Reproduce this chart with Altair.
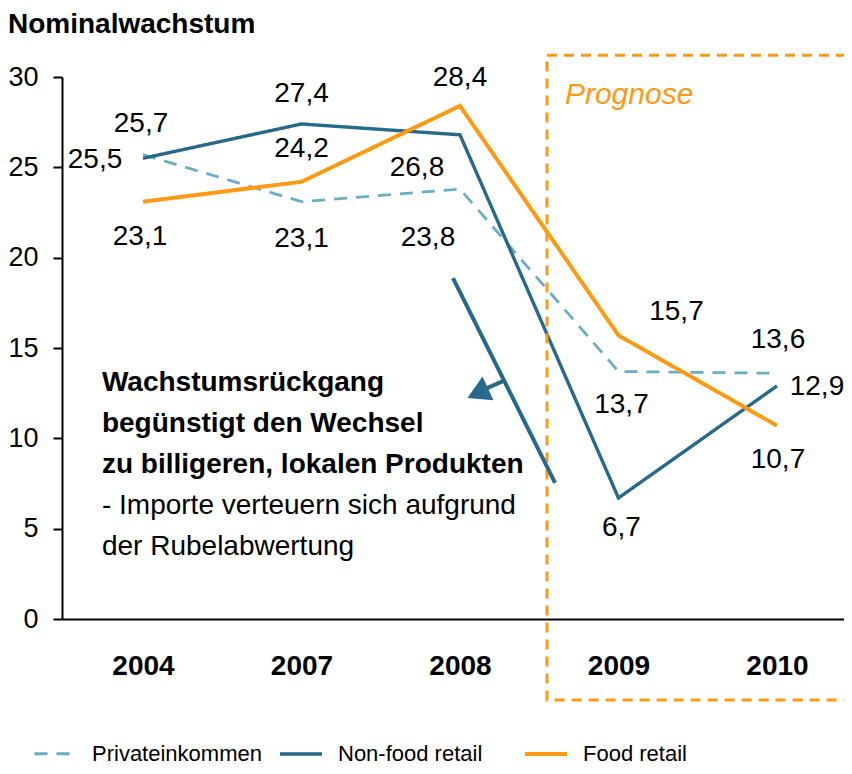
import altair as alt
import pandas as pd

# ---- data ----
years = ["2004", "2007", "2008", "2009", "2010"]
series_names = ["Privateinkommen", "Non-food retail", "Food retail"]
privat = [25.7, 23.1, 23.8, 13.7, 13.6]
nonfood = [25.5, 27.4, 26.8, 6.7, 12.9]
food = [23.1, 24.2, 28.4, 15.7, 10.7]

# label offsets in pixels (dx, dy) relative to each point
privat_off = [(-2, -31), (0, 37), (-32, 49), (3, 34), (1, -33)]
nonfood_off = [(-48, 2), (0, -30), (-43, 33), (3, 30), (40, 1)]
food_off = [(-3, 35), (0, -33), (0, -28), (58, -23), (1, 34)]

FONT = "Liberation Sans, Arial, sans-serif"
C_PRIV = "#6aaec6"
C_NONF = "#27698a"
C_FOOD = "#ff9a12"
C_PROG = "#ff9a12"

rows = []
for name, vals in [("Privateinkommen", privat), ("Non-food retail", nonfood),
                   ("Food retail", food)]:
    for i, (y, v) in enumerate(zip(years, vals)):
        rows.append({"series": name, "idx": i, "year": y, "value": v,
                     "label": f"{v:.1f}".replace(".", ",")})
df = pd.DataFrame(rows)

xscale = alt.Scale(domain=[-0.511, 4.423], nice=False, zero=False)
yscale = alt.Scale(domain=[0, 30], nice=False)

label_expr = "[" + ",".join(f"'{y}'" for y in years) + "][datum.value]"

x_enc = alt.X("idx:Q", scale=xscale,
              axis=alt.Axis(values=list(range(len(years))), labelExpr=label_expr,
                            title=None, ticks=False, grid=False,
                            domainColor="black", domainWidth=2,
                            labelFont=FONT, labelFontSize=28, labelFontWeight="bold",
                            labelColor="black", labelBaseline="alphabetic",
                            labelPadding=55))
y_enc = alt.Y("value:Q", scale=yscale,
              axis=alt.Axis(values=[0, 5, 10, 15, 20, 25, 30], title=None, grid=False,
                            domainColor="black", domainWidth=2, tickColor="black",
                            tickWidth=2, tickSize=9, labelFont=FONT, labelFontSize=27,
                            labelColor="black", labelPadding=15))

color = alt.Color("series:N",
                  scale=alt.Scale(domain=series_names, range=[C_PRIV, C_NONF, C_FOOD]),
                  legend=alt.Legend(title=None, orient="none", direction="horizontal",
                                    legendX=-29, legendY=654, padding=0,
                                    symbolType="stroke", symbolStrokeWidth=4,
                                    symbolSize=1764, labelFont=FONT, labelFontSize=22,
                                    labelColor="black", labelOffset=14, labelLimit=0,
                                    gridAlign="all", columnPadding=10))
dash = alt.StrokeDash("series:N",
                      scale=alt.Scale(domain=series_names,
                                      range=[[13, 9], [1, 0], [1, 0]]),
                      legend=None)
width_enc = alt.StrokeWidth("series:N",
                            scale=alt.Scale(domain=series_names, range=[2.8, 4, 4]),
                            legend=None)

lines = alt.Chart(df).mark_line().encode(
    x=x_enc, y=y_enc, color=color, strokeDash=dash, strokeWidth=width_enc,
    detail="series:N")

# value labels, one small layer per label so each can have its own offset
label_layers = []
for name, offs in [("Privateinkommen", privat_off), ("Non-food retail", nonfood_off),
                   ("Food retail", food_off)]:
    for i, (dx, dy) in enumerate(offs):
        label_layers.append(
            alt.Chart(df).transform_filter(
                (alt.datum.series == name) & (alt.datum.idx == i)
            ).mark_text(font=FONT, fontSize=28, color="black", dx=dx, dy=dy,
                        baseline="middle").encode(
                x=alt.X("idx:Q", scale=xscale),
                y=alt.Y("value:Q", scale=yscale),
                text="label:N"))

# ---- Prognose box ----
box_df = pd.DataFrame([{"x": 2.549, "x2": 4.7, "y": -4.48, "y2": 31.21}])
box = alt.Chart(box_df).mark_rect(fill=None, stroke=C_PROG, strokeWidth=3,
                                  strokeDash=[10, 7]).encode(
    x=alt.X("x:Q", scale=xscale), x2="x2:Q",
    y=alt.Y("y:Q", scale=yscale), y2="y2:Q")

prog_df = pd.DataFrame([{"x": 2.662, "y": 28.5, "t": "Prognose"}])
prog = alt.Chart(prog_df).mark_text(font=FONT, fontSize=30, fontStyle="italic",
                                    color=C_PROG, align="left",
                                    baseline="alphabetic").encode(
    x=alt.X("x:Q", scale=xscale), y=alt.Y("y:Q", scale=yscale), text="t:N")

# ---- annotation ----
seg_df = pd.DataFrame([
    {"x": 1.956, "y": 18.87, "x2": 2.60, "y2": 7.53},
    {"x": 2.271, "y": 13.17, "x2": 2.150, "y2": 12.70},
])
segs = alt.Chart(seg_df).mark_rule(color=C_NONF, strokeWidth=4).encode(
    x=alt.X("x:Q", scale=xscale), y=alt.Y("y:Q", scale=yscale),
    x2="x2:Q", y2="y2:Q")

head_df = pd.DataFrame([{"x": 2.112, "y": 12.50}])
head = alt.Chart(head_df).mark_point(shape="triangle-left", filled=True, color=C_NONF,
                                     opacity=1, size=680, angle=335).encode(
    x=alt.X("x:Q", scale=xscale), y=alt.Y("y:Q", scale=yscale))

bold_lines = ["Wachstumsrückgang", "begünstigt den Wechsel",
              "zu billigeren, lokalen Produkten"]
norm_lines = ["- Importe verteuern sich aufgrund", "der Rubelabwertung"]
ann_x = -0.259
ann_bold = alt.Chart(pd.DataFrame([{"x": ann_x, "y": 12.6, "t": bold_lines}])).mark_text(
    font=FONT, fontSize=28, fontWeight="bold", color="black", align="left",
    baseline="alphabetic", lineHeight=41).encode(
    x=alt.X("x:Q", scale=xscale), y=alt.Y("y:Q", scale=yscale), text="t")
ann_norm = alt.Chart(pd.DataFrame([{"x": ann_x, "y": 5.8, "t": norm_lines}])).mark_text(
    font=FONT, fontSize=28, color="black", align="left",
    baseline="alphabetic", lineHeight=41).encode(
    x=alt.X("x:Q", scale=xscale), y=alt.Y("y:Q", scale=yscale), text="t")

chart = alt.layer(lines, *label_layers, box, prog, segs, head, ann_bold, ann_norm).properties(
    width=782, height=542,
    autosize=alt.AutoSizeParams(type="none"),
    padding={"left": 54, "top": 69, "right": 0, "bottom": 147},
    title=alt.Title("Nominalwachstum", anchor="start", frame="bounds", font=FONT,
                    fontSize=28, fontWeight="bold", color="black", offset=15),
).configure_view(stroke=None)

chart.save("out.html", embed_options={"renderer": "svg", "actions": False})
